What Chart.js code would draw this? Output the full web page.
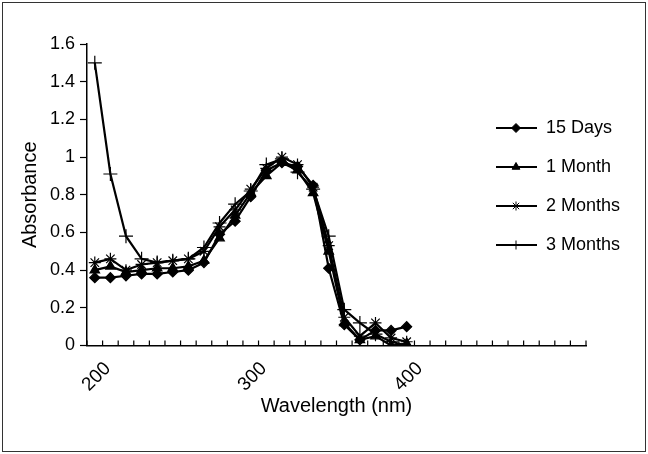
<!DOCTYPE html>
<html>
<head>
<meta charset="utf-8">
<script src="https://cdn.jsdelivr.net/npm/chart.js@4.4.1/dist/chart.umd.min.js"></script>
<style>
  html, body { margin: 0; padding: 0; background: #fff; }
</style>
</head>
<body>
<canvas id="chart" width="648" height="454"></canvas>
<script>
// category axis: 32 slots, only every tenth one carries a label
const wavelengths = [
  "200", "", "", "", "", "", "", "", "", "",
  "300", "", "", "", "", "", "", "", "", "",
  "400", "", "", "", "", "", "", "", "", "", "", ""
];

const days15 = [0.36, 0.36, 0.37, 0.38, 0.38, 0.39, 0.40, 0.44, 0.59, 0.66, 0.79,
  0.93, 0.97, 0.95, 0.85, 0.41, 0.11, 0.03, 0.08, 0.08, 0.10];
const month1 = [0.40, 0.42, 0.39, 0.40, 0.41, 0.41, 0.42, 0.45, 0.57, 0.69, 0.81,
  0.90, 0.97, 0.93, 0.81, 0.50, 0.12, 0.03, 0.05, 0.00, 0.01];
const months2 = [0.44, 0.46, 0.40, 0.43, 0.44, 0.45, 0.46, 0.50, 0.63, 0.72, 0.83,
  0.94, 1.00, 0.96, 0.84, 0.53, 0.15, 0.05, 0.12, 0.04, 0.02];
const months3 = [1.50, 0.91, 0.58, 0.46, 0.44, 0.45, 0.46, 0.52, 0.65, 0.75, 0.82,
  0.96, 0.99, 0.92, 0.83, 0.58, 0.19, 0.12, 0.06, 0.02, 0.00];

const seriesNames = ["15 Days", "1 Month", "2 Months", "3 Months"];

const fontFamily = "'Liberation Sans', Arial, sans-serif";
Chart.defaults.font.family = fontFamily;
Chart.defaults.color = "#000";

function makeSeries(label, data, style, radius, order) {
  return {
    label: label,
    data: data,
    borderColor: "#000",
    backgroundColor: "#000",
    borderWidth: 2.2,
    tension: 0,
    pointStyle: style,
    pointRadius: radius,
    pointHoverRadius: radius,
    pointBorderWidth: 1.2,
    pointBorderColor: "#000",
    pointBackgroundColor: "#000",
    order: order,
  };
}

// white page with the thin frame round it
const framePlugin = {
  id: "frame",
  beforeDraw(chart) {
    const ctx = chart.ctx;
    ctx.save();
    ctx.fillStyle = "#fff";
    ctx.fillRect(0, 0, chart.width, chart.height);
    ctx.strokeStyle = "#333";
    ctx.lineWidth = 1;
    ctx.strokeRect(2.5, 2.5, chart.width - 5, chart.height - 5);
    ctx.restore();
  },
};

// small tick marks pointing up into the plot, between categories
const innerTicksPlugin = {
  id: "innerTicks",
  afterDraw(chart) {
    const xs = chart.scales.x;
    const ctx = chart.ctx;
    const step = xs.getPixelForValue(1) - xs.getPixelForValue(0);
    const y0 = chart.chartArea.bottom;
    ctx.save();
    ctx.strokeStyle = "#000";
    ctx.lineWidth = 1.2;
    ctx.beginPath();
    for (let i = 0; i <= wavelengths.length; i++) {
      const x = xs.getPixelForValue(0) - step / 2 + i * step;
      ctx.moveTo(x, y0);
      ctx.lineTo(x, y0 - 5);
    }
    ctx.stroke();
    ctx.restore();
  },
};

// legend drawn to the right, line sample with the marker in the middle
const sideLegendPlugin = {
  id: "sideLegend",
  afterDraw(chart) {
    const ctx = chart.ctx;
    ctx.save();
    chart.data.datasets.forEach(function (ds, i) {
      const y = 128 + i * 39;
      ctx.strokeStyle = "#000";
      ctx.fillStyle = "#000";
      ctx.lineWidth = 2;
      ctx.beginPath();
      ctx.moveTo(496, y);
      ctx.lineTo(537, y);
      ctx.stroke();
      if (Chart.helpers && Chart.helpers.drawPoint) {
        ctx.lineWidth = 1;
        Chart.helpers.drawPoint(ctx, {
          pointStyle: ds.pointStyle,
          rotation: 0,
          radius: Math.min(ds.pointRadius, 4.5),
          borderWidth: 1,
        }, 516, y);
      }
      ctx.font = "18px " + fontFamily;
      ctx.textBaseline = "middle";
      ctx.textAlign = "left";
      ctx.fillText(ds.label, 546, y);
    });
    ctx.restore();
  },
};

const canvasRef = document.getElementById("chart");

const myChart = new Chart(canvasRef, {
  type: "line",
  data: {
    labels: wavelengths,
    datasets: [
      makeSeries(seriesNames[0], days15, "rectRot", 5, 4),
      makeSeries(seriesNames[1], month1, "triangle", 5.5, 3),
      makeSeries(seriesNames[2], months2, "star", 6, 2),
      makeSeries(seriesNames[3], months3, "cross", 7, 1),
    ],
  },
  options: {
    responsive: false,
    animation: false,
    layout: {
      padding: { left: 0, top: 44, right: 62, bottom: 0 },
    },
    plugins: {
      legend: { display: false },
      tooltip: { enabled: false },
    },
    scales: {
      x: {
        type: "category",
        offset: true,
        grid: { display: true, drawOnChartArea: false, drawTicks: false },
        border: { display: true, color: "#000", width: 1.5 },
        ticks: {
          autoSkip: false,
          minRotation: 45,
          maxRotation: 45,
          padding: 12,
          labelOffset: 13,
          font: { size: 19 },
          color: "#000",
        },
        title: {
          display: true,
          text: "Wavelength (nm)",
          font: { size: 20 },
          color: "#000",
          padding: { top: 36, bottom: 36 },
        },
        afterFit(scale) {
          scale.height = 108.5;
        },
      },
      y: {
        min: 0,
        max: 1.6,
        grid: {
          display: true,
          drawOnChartArea: false,
          drawTicks: true,
          tickLength: 7,
          tickColor: "#000",
          tickWidth: 1.2,
        },
        border: { display: true, color: "#000", width: 1.5 },
        ticks: {
          stepSize: 0.2,
          padding: 5,
          font: { size: 18 },
          color: "#000",
          callback: function (v) {
            return String(Number(v.toFixed(1)));
          },
        },
        title: {
          display: true,
          text: "Absorbance",
          font: { size: 20 },
          color: "#000",
          padding: { top: 18, bottom: 18 },
        },
        afterFit(scale) {
          scale.width = 87;
        },
      },
    },
  },
  plugins: [framePlugin, innerTicksPlugin, sideLegendPlugin],
});
</script>
</body>
</html>
